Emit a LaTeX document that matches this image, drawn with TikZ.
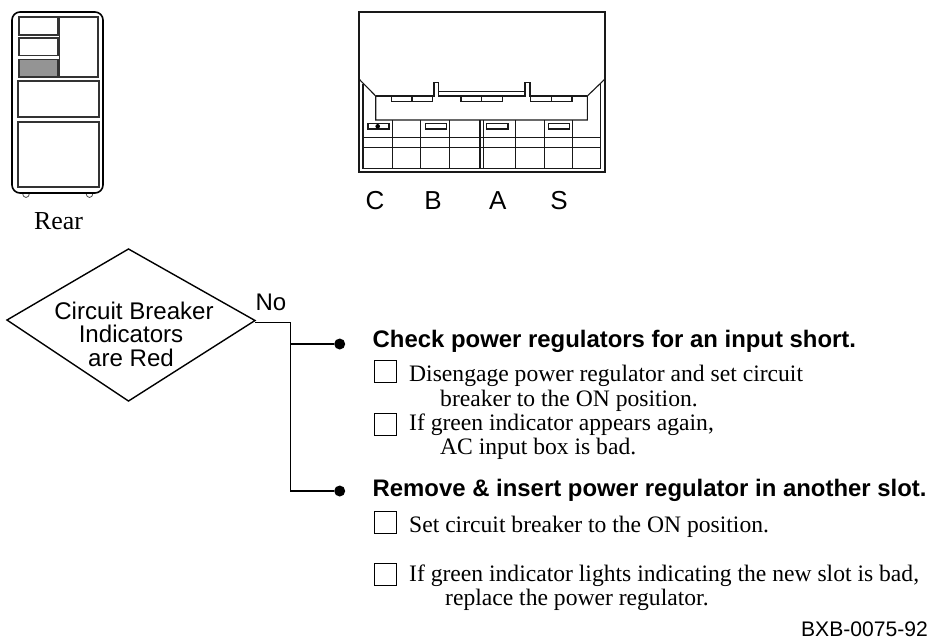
\documentclass[tikz,border=0pt]{standalone}
\usepackage{fontspec}
\setmainfont{Liberation Serif}
\newfontfamily\hv{Liberation Sans}
\tikzset{
  px/.style={x=1pt,y=-1pt},
  mid line/.style={draw=black!90,line width=1.1pt},
  cabinet/.style={draw=black!80,line width=1.4pt},
  foot/.style={draw=black!70,line width=.8pt},
  flow/.style={draw=black,line width=1.1pt},
  lab/.style={inner sep=0pt,anchor=base,font=\hv\fontsize{24}{24}\selectfont},
  slot lab/.style={inner sep=0pt,anchor=base,font=\hv\fontsize{26}{26}\selectfont},
  small lab/.style={inner sep=0pt,anchor=base,font=\hv\fontsize{24.1}{24.1}\selectfont},
  heading/.style={inner sep=0pt,anchor=base west,font=\hv\bfseries\fontsize{23.9}{23.9}\selectfont},
  body/.style={inner sep=0pt,anchor=base west,font=\fontsize{23.6}{23.6}\selectfont},
  chk/.style={draw=black,line width=.9pt,minimum size=22pt,inner sep=0pt,anchor=north west},
  dot/.style={circle,fill=black,minimum size=11pt,inner sep=0pt}
}
\begin{document}
\begin{tikzpicture}[px]
\useasboundingbox (0,0) rectangle (931,641);
% cabinet
\draw[foot] (22.5,193) arc[start angle=180,end angle=360,x radius=3.5,y radius=-4.5];
\draw[foot] (86,193) arc[start angle=180,end angle=360,x radius=3.5,y radius=-4.5];
\draw[draw=black,line width=1.6pt,fill=white,rounded corners=8pt] (12,12) rectangle (103,193);
\draw[cabinet] (19,17) rectangle (58,35);
\draw[cabinet] (19,38) rectangle (58,55.5);
\draw[cabinet,fill=black!42] (19,59.5) rectangle (58,77);
\draw[cabinet] (59.5,17) rectangle (98,77);
\draw[cabinet] (18,81) rectangle (99,117);
\draw[cabinet] (18,122) rectangle (99,187);
\node[inner sep=0pt,anchor=base,font=\fontsize{25.9}{25.9}\selectfont] (rear) at (58.5,229) {Rear};
% panel
\draw[mid line] (359,79) -- (359,12) -- (605,12) -- (605,79);
\draw[mid line] (359,79) -- (359,172) -- (605,172) -- (605,79);
\draw[mid line] (363,84) -- (363,168.3) -- (600.7,168.3) -- (600.7,83);
\draw[mid line] (359,79) -- (375.7,96) -- (375.7,120) -- (587.3,120) -- (587.3,96) -- (605,79);
\draw[mid line] (375.7,96) -- (434,96) -- (434,82.7) -- (438.3,82.7) -- (438.3,96) -- (525,96) -- (525,82.7) -- (530,82.7) -- (530,96) -- (587.3,96);
\draw[mid line] (438.3,91.7) -- (525,91.7);
\foreach \a/\b/\c in {391.5/412/432.5,461/481.7/502.7,530.7/551.7/572}{
  \draw[mid line] (\a,96.5) rectangle (\c,101.7);
  \draw[mid line] (\b,96.5) -- (\b,101.7);
}
\draw[mid line] (363,137.7) -- (600.7,137.7);
\draw[mid line] (363,147.7) -- (600.7,147.7);
\foreach \x in {392.3,420.7,449.3,480,483.3,515.7,544.3,572.7}{
  \draw[mid line] (\x,120) -- (\x,168.3);
}
\foreach \a/\b in {368/389,425.7/446.7,486.7/508,548.3/569.3}{
  \draw[mid line] (\a,123.3) rectangle (\b,129);
}
\fill (377.7,126.3) circle (2.3);
\foreach \n/\t/\x in {c/C/375,b/B/433,a/A/497.7,s/S/559}{
  \node[slot lab] (\n) at (\x,209) {\t};
}
% flow
\coordinate (dl) at (7,320);
\coordinate (dt) at (128.5,249);
\coordinate (dr) at (255,320.5);
\coordinate (db) at (128.5,401);
\draw[line width=1.4pt,line join=miter] (dl) -- (dt) -- (dr) -- (db) -- cycle;
\node[small lab] (dtext1) at (134,319) {Circuit Breaker};
\node[small lab] (dtext2) at (131,342.7) {Indicators};
\node[small lab] (dtext3) at (131,366.7) {are Red};
\node[lab] (no) at (271,310.7) {No};
\node[dot] (d1) at (339.7,344) {};
\node[dot] (d2) at (339.7,491) {};
\coordinate (e) at (255,322.7);
\coordinate (k) at (290.7,322.7);
\coordinate (j) at (290.7,344);
\coordinate (m) at (290.7,491);
\draw[flow] (e) -- (k) -- (m) -- (d2);
\draw[flow] (j) -- (d1);
\node[heading] (h1) at (372.5,347.7) {Check power regulators for an input short.};
\node[heading] (h2) at (372.5,496) {Remove \& insert power regulator in another slot.};
\node[chk] (c1) at (374,360) {};
\node[chk] (c2) at (374,412.5) {};
\node[chk] (c3) at (374,510.5) {};
\node[chk] (c4) at (374,563.3) {};
\node[body] (t1) at (409,381.7) {Disengage power regulator and set circuit};
\node[body] (t1b) at (440,406) {breaker to the ON position.};
\node[body] (t2) at (409,430) {If green indicator appears again,};
\node[body] (t2b) at (440,454) {AC input box is bad.};
\node[body] (t3) at (409,532.3) {Set circuit breaker to the ON position.};
\node[body] (t4) at (409,581.7) {If green indicator lights indicating the new slot is bad,};
\node[body] (t4b) at (445,605) {replace the power regulator.};
\node[inner sep=0pt,anchor=base east,font=\hv\fontsize{21.1}{21.1}\selectfont] (id) at (928,636) {BXB-0075-92};
\end{tikzpicture}
\end{document}
